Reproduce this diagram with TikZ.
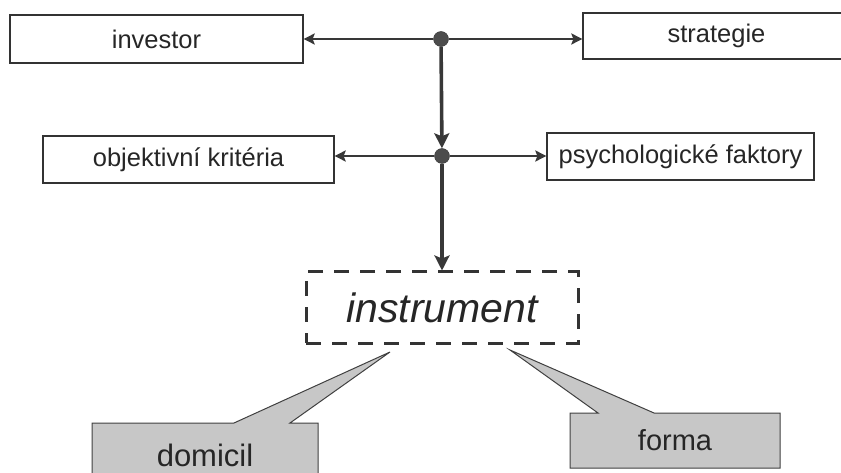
\documentclass[tikz,border=0pt]{standalone}
\usepackage{fontspec}
\setmainfont{Liberation Sans}
\usetikzlibrary{arrows.meta,shapes.callouts}

\begin{document}
\begin{tikzpicture}[x=1pt,y=-1pt,
    flat arrow/.style={draw=black!78,line width=2.4pt,-{Stealth[length=11pt,width=11pt,inset=2pt]}},
    down arrow/.style={draw=black!78,line width=3.6pt,-{Stealth[length=15pt,width=15pt,inset=3pt]}},
    main box/.style={rectangle,draw=black!80,line width=1.3pt,inner sep=0pt,font=\fontsize{25.5}{30}\selectfont,text=black!85},
    junction/.style={circle,fill=black!70,draw=black!80,inner sep=0pt,minimum size=15pt},
    talk box/.style={rectangle callout,fill=black!22,draw=black!75,line width=1pt,callout pointer width=56pt,inner sep=0pt,text=black!85}]
  \useasboundingbox (0,0) rectangle (841,473);
  % upper row
  \node[main box,minimum width=293pt,minimum height=48pt] (investor) at (156.5,39) {investor};
  \node[main box,minimum width=267pt,minimum height=46pt] (strategie) at (716.5,36) {strategie};
  \node[junction] (top) at (441,39) {};
  % middle row
  \node[main box,minimum width=291pt,minimum height=47pt] (objektivni) at (188.5,159.5) {objektivní kritéria};
  \node[main box,minimum width=267pt,minimum height=47pt] (psych) at (680.5,156.5) {psychologické faktory};
  \node[junction] (mid) at (442,156) {};
  % target
  \node[rectangle,draw=black!80,line width=3pt,dash pattern=on 15pt off 11pt,
        minimum width=272pt,minimum height=71pt,font=\fontsize{41}{48}\selectfont\itshape,text=black!85]
        (instrument) at (442,307.5) {instrument};
  % callouts
  \node[talk box,minimum width=226pt,minimum height=64pt,font=\fontsize{31}{36}\selectfont,
        callout absolute pointer={(390,352)}] (domicil) at (205,455) {domicil};
  \node[talk box,minimum width=210pt,minimum height=55pt,font=\fontsize{29}{34}\selectfont,
        callout absolute pointer={(510,350)}] (forma) at (675,440.5) {forma};
  \path
    (top) edge [flat arrow] (investor.east)
          edge [flat arrow] (top -| strategie.west)
          edge [down arrow] (mid)
    (mid) edge [flat arrow] (mid -| objektivni.east)
          edge [flat arrow] (mid -| psych.west)
          edge [down arrow] (instrument.north);
\end{tikzpicture}
\end{document}
